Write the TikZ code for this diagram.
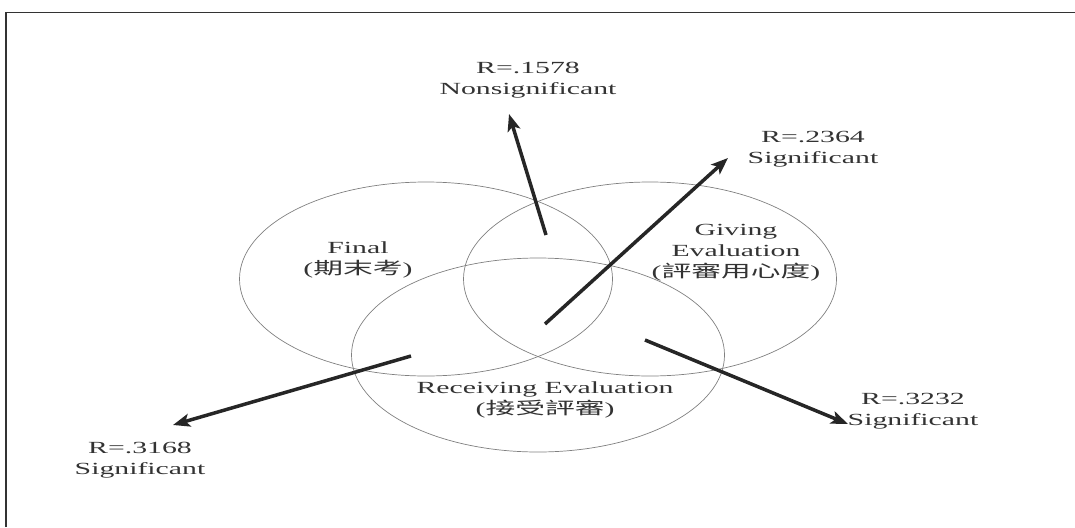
\documentclass[tikz,border=0pt]{standalone}
\usepackage{fontspec}
\setmainfont{Liberation Serif}
\newfontfamily\cjk{Noto Sans CJK TC}
\usetikzlibrary{shapes.geometric,arrows.meta}
\newcommand{\sx}[1]{\scalebox{1.75}[1]{#1}}
\tikzset{
  venn/.style={ellipse, draw=black!50, line width=0.7pt, inner sep=0pt,
               minimum width=373pt, minimum height=194pt},
  lbl/.style={align=center, inner sep=0pt, text=black!80,
              font=\fontsize{17}{21}\selectfont},
  rarrow/.style={draw=black!85, line width=3.5pt,
                 -{Stealth[length=17pt,width=13pt,inset=4pt]}},
  frameline/.style={draw=black!80, line width=1.2pt}
}
\begin{document}
\begin{tikzpicture}[x=1pt,y=-1pt]
\useasboundingbox (0,0) rectangle (1075,527);
% frame
\coordinate (f1) at (6,527);
\coordinate (f2) at (6,12.5);
\coordinate (f3) at (1075,12.5);
\draw[frameline] (f1) -- (f2) -- (f3);
% ellipses
\node[venn] (final) at (426,279) {};
\node[venn] (giving) at (650,279) {};
\node[venn] (recv) at (538,355) {};
% ellipse labels
\node[lbl] (tfinal) at (358,260) {\sx{Final}\\\sx{({\cjk 期末考})}};
\node[lbl] (tgiving) at (736,253) {\sx{Giving}\\\sx{Evaluation}\\\sx{({\cjk 評審用心度})}};
\node[lbl] (trecv) at (545,400) {\sx{Receiving Evaluation}\\\sx{({\cjk 接受評審})}};
% R labels
\node[lbl] (r1) at (528,80) {\sx{R=.1578}\\\sx{Nonsignificant}};
\node[lbl] (r2) at (813,149) {\sx{R=.2364}\\\sx{Significant}};
\node[lbl] (r3) at (913,411) {\sx{R=.3232}\\\sx{Significant}};
\node[lbl] (r4) at (140,460) {\sx{R=.3168}\\\sx{Significant}};
% arrows
\coordinate (a1s) at (546,235);
\coordinate (a1e) at (509,114);
\coordinate (a2s) at (545,324);
\coordinate (a2e) at (728,158);
\coordinate (a3s) at (411,356);
\coordinate (a3e) at (173,425);
\coordinate (a4s) at (645,340);
\coordinate (a4e) at (848,424);
\draw[rarrow] (a1s) -- (a1e);
\draw[rarrow] (a2s) -- (a2e);
\draw[rarrow] (a3s) -- (a3e);
\draw[rarrow] (a4s) -- (a4e);
\end{tikzpicture}
\end{document}
